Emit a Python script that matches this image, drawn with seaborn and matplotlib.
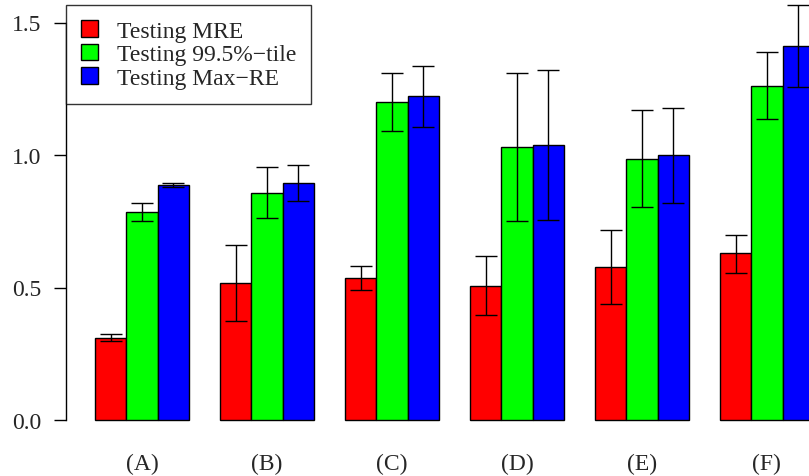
import matplotlib
matplotlib.use("Agg")
import matplotlib.pyplot as plt
import seaborn as sns
import pandas as pd
import numpy as np

categories = ["(A)", "(B)", "(C)", "(D)", "(E)", "(F)"]
series = ["Testing MRE", "Testing 99.5%\u2212tile", "Testing Max\u2212RE"]
colors = ["#FF0000", "#00FF00", "#0000FF"]

mre = [0.309, 0.517, 0.536, 0.506, 0.577, 0.630]
mre_lo = [0.297, 0.374, 0.492, 0.395, 0.438, 0.555]
mre_hi = [0.323, 0.660, 0.583, 0.619, 0.717, 0.698]

p995 = [0.785, 0.858, 1.200, 1.029, 0.985, 1.262]
p995_lo = [0.751, 0.762, 1.090, 0.751, 0.804, 1.137]
p995_hi = [0.819, 0.955, 1.310, 1.310, 1.170, 1.389]

maxre = [0.887, 0.894, 1.222, 1.037, 1.000, 1.411]
maxre_lo = [0.880, 0.825, 1.106, 0.754, 0.819, 1.255]
maxre_hi = [0.895, 0.963, 1.336, 1.320, 1.177, 1.567]

vals = [mre, p995, maxre]
los = [mre_lo, p995_lo, maxre_lo]
his = [mre_hi, p995_hi, maxre_hi]

rows = []
for s, v, lo, hi in zip(series, vals, los, his):
    for c, a, l, h in zip(categories, v, lo, hi):
        rows.append({"cat": c, "series": s, "val": a, "lo": l, "hi": h})
df = pd.DataFrame(rows)

sns.set_style("white")
plt.rcParams["font.family"] = ["Liberation Serif", "DejaVu Serif"]

W, H = 809, 477
fig = plt.figure(figsize=(W / 100, H / 100), dpi=100)
ax = fig.add_axes([66 / W, 1 - 440 / H, 1 - 66 / W, 440 / H])

sns.barplot(data=df, x="cat", y="val", hue="series", palette=colors,
            hue_order=series, order=categories, width=0.75, gap=0,
            errorbar=None, edgecolor="black", linewidth=1.0,
            saturation=1, ax=ax, legend=True)

# error bars at bar centres
patches = [p for p in ax.patches if p.get_height() > 0 and p.get_width() > 0.1]
for s_i, s in enumerate(series):
    sub = df[df["series"] == s]
    ps = patches[s_i * len(categories):(s_i + 1) * len(categories)]
    xs = [p.get_x() + p.get_width() / 2 for p in ps]
    y = sub["val"].values
    yerr = np.vstack([y - sub["lo"].values, sub["hi"].values - y])
    ax.errorbar(xs, y, yerr=yerr, fmt="none", ecolor="black",
                elinewidth=1.0, capsize=8, capthick=1.0, zorder=5)

ax.set_ylim(-19 / 265, 421 / 265)
ax.set_xlim(-(141.9 - 66) / 125, (809 - 141.9) / 125)
ax.set_yticks([0.0, 0.5, 1.0, 1.5])
ax.set_yticklabels(["0.0", "0.5", "1.0", "1.5"])
ax.set_xlabel("")
ax.set_ylabel("")
for sp in ["top", "right", "bottom"]:
    ax.spines[sp].set_visible(False)
ax.spines["left"].set_bounds(0, 1.5)
ax.spines["left"].set_color("black")
ax.spines["left"].set_linewidth(1.0)
ax.tick_params(axis="y", length=9, width=1, pad=9, labelsize=17, left=True, color="black")
ax.tick_params(axis="x", length=0, pad=10, labelsize=17)

handles, labels = ax.get_legend_handles_labels()
ax.legend_.remove()
leg = fig.legend(handles, labels, loc="upper left",
                 bbox_to_anchor=(66 / W, 1 - 6 / H), borderaxespad=0,
                 fontsize=17, frameon=True, fancybox=False,
                 handlelength=0.7, handleheight=0.7, handletextpad=0.8,
                 labelspacing=0.08, borderpad=0.65)
leg.get_frame().set_edgecolor("black")
leg.get_frame().set_linewidth(1.0)
for h in leg.legend_handles:
    h.set_edgecolor("black")

fig.savefig("out.png", dpi=100)
